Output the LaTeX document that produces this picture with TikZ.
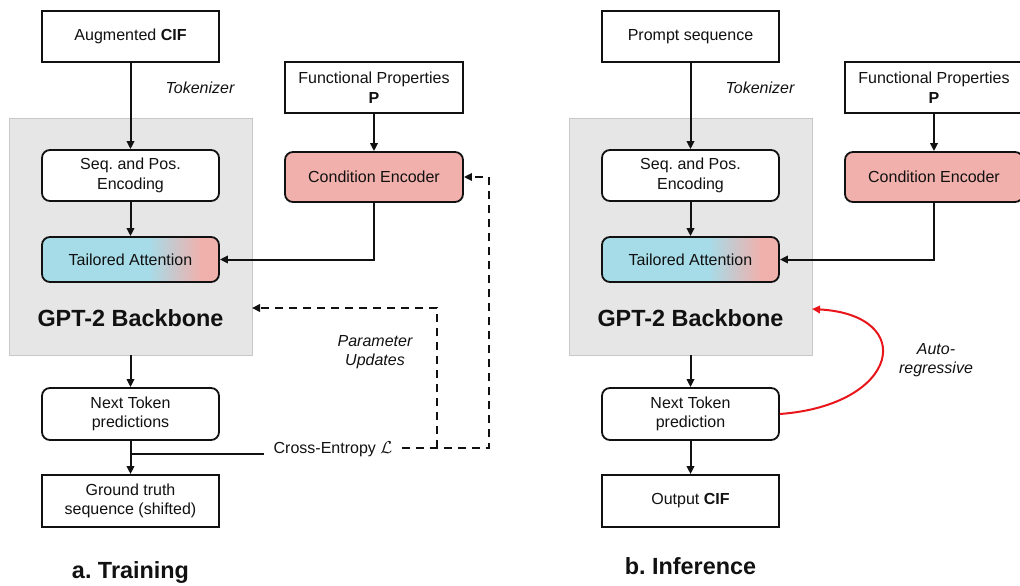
\documentclass[tikz,border=0pt]{standalone}
\usepackage{fontspec}
\setmainfont{Liberation Sans}
\usetikzlibrary{arrows.meta}
\definecolor{attnblue}{HTML}{A6DCE8}
\definecolor{attnpink}{HTML}{F0B0AC}
\definecolor{cepink}{HTML}{F1B0AC}
\definecolor{bggray}{HTML}{E6E6E6}
\definecolor{bgedge}{HTML}{C8C8C8}
\definecolor{arred}{HTML}{E8161B}
\definecolor{ink}{HTML}{111111}
\pgfdeclarehorizontalshading{attnshade}{100bp}{color(0bp)=(attnblue); color(55bp)=(attnblue); color(70bp)=(attnpink); color(100bp)=(attnpink)}
\begin{document}
\frenchspacing
\begin{tikzpicture}[x=1pt,y=-1pt,
  font=\fontsize{16}{19.5}\selectfont,
  every node/.style={text=ink},
  box/.style={draw=ink, fill=white, line width=1.8pt, minimum width=177pt, minimum height=51pt, align=center, inner sep=2pt},
  rbox/.style={box, rounded corners=8pt},
  attnbox/.style={rbox, minimum height=45pt, shade, shading=attnshade},
  bgbox/.style={draw=bgedge, fill=bggray, line width=0.8pt, minimum width=243pt, minimum height=237pt, inner sep=0pt},
  bigtext/.style={font=\fontsize{23.4}{28}\selectfont\bfseries},
  lbl/.style={align=center, inner sep=2pt},
  conn/.style={draw=ink, line width=2pt},
  tip/.style={conn, -{Triangle[length=8pt,width=7.5pt]}},
  dsh/.style={dash pattern=on 8pt off 6pt}
]
\useasboundingbox (0,0) rectangle (1020,586);

% ---------------- a. Training ----------------
\node[bgbox] (gptL) at (130.5,236.5) {};
\node[bigtext] (gptLt) at (130.5,318) {GPT-2 Backbone};
\node[box] (augL) at (130.5,36.5) {Augmented \textbf{CIF}};
\node[rbox] (seqL) at (130.5,175.5) {Seq. and Pos.\\Encoding};
\node[attnbox] (attL) at (130.5,259.5) {Tailored Attention};
\node[box, minimum width=178pt] (fpL) at (374,87.5) {Functional Properties\\\textbf{P}};
\node[rbox, fill=cepink, minimum width=178pt, minimum height=50pt] (ceL) at (374,177) {Condition Encoder};
\node[rbox, minimum height=52pt] (nextL) at (130.5,414) {Next Token\\predictions};
\node[box, minimum height=52pt] (gtL) at (130.5,501) {Ground truth\\sequence (shifted)};
\node[lbl] (tokL) at (200,88) {\itshape Tokenizer};
\node[lbl, inner sep=9pt] (xent) at (333,449) {Cross-Entropy $\mathcal{L}$};
\node[lbl] (pu) at (375,352) {\itshape Parameter\\\itshape Updates};
\node[bigtext] (capL) at (130.5,572) {a. Training};

\draw[tip] (augL) -- (seqL);
\draw[tip] (seqL) -- (attL);
\draw[tip] (fpL) -- (ceL);
\draw[tip] (ceL.south) |- (attL.east);
\draw[tip] (gptL.south) -- (nextL.north);
\draw[tip] (nextL) -- (gtL);
\coordinate (jL) at (130.5,454);
\draw[conn] (jL) -- (jL -| xent.west);
\coordinate (rL) at (489,448);
\coordinate (bL) at (437,448);
\coordinate (uL) at (252,308);
\draw[tip, dsh] (xent.east |- rL) -- (rL) |- (ceL.east);
\draw[tip, dsh] (bL) |- (uL);

% ---------------- b. Inference ----------------
\node[bgbox] (gptR) at (690.5,236.5) {};
\node[bigtext] (gptRt) at (690.5,318) {GPT-2 Backbone};
\node[box] (prR) at (690.5,36.5) {Prompt sequence};
\node[rbox] (seqR) at (690.5,175.5) {Seq. and Pos.\\Encoding};
\node[attnbox] (attR) at (690.5,259.5) {Tailored Attention};
\node[box, minimum width=178pt] (fpR) at (934,87.5) {Functional Properties\\\textbf{P}};
\node[rbox, fill=cepink, minimum width=178pt, minimum height=50pt] (ceR) at (934,177) {Condition Encoder};
\node[rbox, minimum height=52pt] (nextR) at (690.5,414) {Next Token\\prediction};
\node[box, minimum height=52pt] (outR) at (690.5,501) {Output \textbf{CIF}};
\node[lbl] (tokR) at (760,88) {\itshape Tokenizer};
\node[lbl] (ar) at (936,360) {\itshape Auto-\\\itshape regressive};
\node[bigtext] (capR) at (690.5,566) {b. Inference};

\draw[tip] (prR) -- (seqR);
\draw[tip] (seqR) -- (attR);
\draw[tip] (fpR) -- (ceR);
\draw[tip] (ceR.south) |- (attR.east);
\draw[tip] (gptR.south) -- (nextR.north);
\draw[tip] (nextR) -- (outR);
\coordinate (aR) at (812,309);
\draw[tip, draw=arred] (nextR.east) .. controls (900,405) and (918,315) .. (aR);
\end{tikzpicture}
\end{document}
